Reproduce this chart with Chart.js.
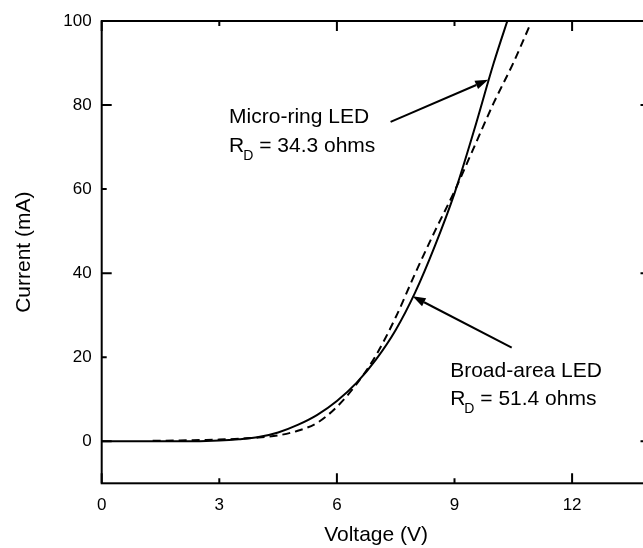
<!DOCTYPE html>
<html>
<head>
<meta charset="utf-8">
<script src="https://cdn.jsdelivr.net/npm/chart.js@4.4.0/dist/chart.umd.min.js"></script>
<style>
html, body { margin: 0; padding: 0; background: #fff; overflow: hidden; }
#wrap { width: 660px; height: 548px; }
</style>
</head>
<body>
<div id="wrap"><canvas id="graficoIV" width="660" height="548"></canvas></div>
<script>
// Curvas I-V de los dos LED
const voltajeMicro = [0, 1, 2, 3, 3.5, 4, 4.5, 5, 5.5, 6, 6.5, 7, 7.5, 8, 8.5, 9, 9.5, 10, 10.4];
const corrienteMicro = [0, 0, 0, 0.2, 0.5, 1.0, 2.1, 3.9, 6.3, 9.6, 13.9, 19.5, 26.5, 35.5, 46.5, 59, 74, 90, 101.5];

const voltajeBroad = [1.3, 2, 2.5, 3, 3.5, 4, 4.5, 5, 5.5, 6, 6.5, 7, 7.5, 8, 8.5, 9, 9.5, 10, 10.5, 10.9];
const corrienteBroad = [0.1, 0.2, 0.3, 0.4, 0.6, 0.9, 1.4, 2.5, 4.4, 8.2, 13.6, 20.5, 29.5, 40, 50, 59.5, 70, 80.5, 90, 98.5];

const ticksX = [0, 3, 6, 9, 12];
const ticksXMayores = [0, 6, 12];
const ticksY = [0, 20, 40, 60, 80, 100];
const ticksYMayores = [0, 40, 80];

const fuente = '"Liberation Sans", Arial, sans-serif';

const puntos = (xs, ys) => xs.map((x, i) => ({x: x, y: ys[i]}));

// marco, marcas hacia adentro, flechas y textos
const anotaciones = {
    id: 'anotaciones',
    afterDraw(chart) {
        const ctx = chart.ctx;
        const a = chart.chartArea;
        const sx = chart.scales.x, sy = chart.scales.y;
        ctx.save();
        ctx.strokeStyle = '#000';
        ctx.fillStyle = '#000';
        ctx.lineWidth = 2;
        ctx.strokeRect(a.left, a.top, a.right - a.left, a.bottom - a.top);

        ctx.beginPath();
        ticksX.forEach(v => {
            const px = sx.getPixelForValue(v);
            const l = ticksXMayores.includes(v) ? 10 : 5;
            ctx.moveTo(px, a.bottom); ctx.lineTo(px, a.bottom - l);
            ctx.moveTo(px, a.top); ctx.lineTo(px, a.top + l);
        });
        ticksY.forEach(v => {
            const py = sy.getPixelForValue(v);
            const l = ticksYMayores.includes(v) ? 10 : 5;
            ctx.moveTo(a.left, py); ctx.lineTo(a.left + l, py);
            ctx.moveTo(a.right, py); ctx.lineTo(a.right - l, py);
        });
        ctx.stroke();

        const flecha = (x0, y0, x1, y1) => {
            const p0 = [sx.getPixelForValue(x0), sy.getPixelForValue(y0)];
            const p1 = [sx.getPixelForValue(x1), sy.getPixelForValue(y1)];
            const ang = Math.atan2(p1[1] - p0[1], p1[0] - p0[0]);
            const largo = 13, ancho = 4.5;
            const bx = p1[0] - largo * Math.cos(ang), by = p1[1] - largo * Math.sin(ang);
            ctx.beginPath();
            ctx.moveTo(p0[0], p0[1]);
            ctx.lineTo(bx, by);
            ctx.stroke();
            ctx.beginPath();
            ctx.moveTo(p1[0], p1[1]);
            ctx.lineTo(bx + ancho * Math.sin(ang), by - ancho * Math.cos(ang));
            ctx.lineTo(bx - ancho * Math.sin(ang), by + ancho * Math.cos(ang));
            ctx.closePath();
            ctx.fill();
        };
        flecha(7.37, 76, 9.86, 86);
        flecha(10.46, 22.3, 7.93, 34.5);

        const texto = (t, x, y) => {
            ctx.font = '21px ' + fuente;
            ctx.textAlign = 'left';
            ctx.textBaseline = 'alphabetic';
            ctx.fillText(t, sx.getPixelForValue(x), sy.getPixelForValue(y));
        };
        const resistencia = (valor, x, y) => {
            let px = sx.getPixelForValue(x);
            const py = sy.getPixelForValue(y);
            ctx.font = '21px ' + fuente;
            ctx.textAlign = 'left';
            ctx.textBaseline = 'alphabetic';
            ctx.fillText('R', px, py);
            px += ctx.measureText('R').width - 1;
            ctx.font = '14px ' + fuente;
            ctx.fillText('D', px, py + 8);
            px += ctx.measureText('D').width;
            ctx.font = '21px ' + fuente;
            ctx.fillText(' = ' + valor + ' ohms', px, py);
        };
        texto('Micro-ring LED', 3.25, 75.7);
        resistencia('34.3', 3.25, 68.8);
        texto('Broad-area LED', 8.89, 15.2);
        resistencia('51.4', 8.89, 8.6);
        ctx.restore();
    }
};

new Chart(document.getElementById('graficoIV').getContext('2d'), {
    type: 'line',
    data: {
        datasets: [{
            label: 'Micro-ring LED',
            data: puntos(voltajeMicro, corrienteMicro),
            borderColor: '#000',
            borderWidth: 2,
            pointRadius: 0,
            cubicInterpolationMode: 'monotone'
        },
        {
            label: 'Broad-area LED',
            data: puntos(voltajeBroad, corrienteBroad),
            borderColor: '#000',
            borderWidth: 2,
            borderDash: [8, 5],
            pointRadius: 0,
            cubicInterpolationMode: 'monotone'
        }]
    },
    options: {
        responsive: false,
        animation: false,
        layout: { padding: { left: 0, top: 21, right: 9.5, bottom: 0 } },
        plugins: { legend: { display: false }, tooltip: { enabled: false } },
        scales: {
            x: {
                type: 'linear',
                min: 0,
                max: 14,
                afterBuildTicks: s => { s.ticks = ticksX.map(v => ({value: v})); },
                afterFit: s => { s.height = 64.7; },
                grid: { display: false, drawTicks: false },
                border: { display: false },
                ticks: { color: '#000', padding: 12, font: { family: fuente, size: 17 } },
                title: { display: true, text: 'Voltage (V)', color: '#000', padding: { top: 0, bottom: 0 }, font: { family: fuente, size: 21 } }
            },
            y: {
                type: 'linear',
                min: -10,
                max: 100,
                afterBuildTicks: s => { s.ticks = ticksY.map(v => ({value: v})); },
                afterFit: s => { s.width = 101.7; },
                grid: { display: false, drawTicks: false },
                border: { display: false },
                ticks: { color: '#000', padding: 10, font: { family: fuente, size: 17 } },
                title: { display: true, text: 'Current (mA)', color: '#000', padding: { top: 12, bottom: 0 }, font: { family: fuente, size: 21 } }
            }
        }
    },
    plugins: [anotaciones]
});
</script>
</body>
</html>
